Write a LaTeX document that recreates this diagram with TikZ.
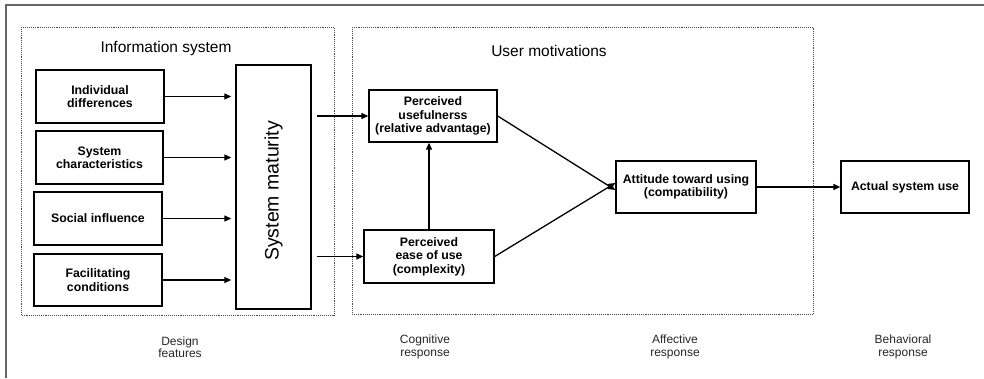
\documentclass[tikz,border=0pt]{standalone}
\usepackage{fontspec}
\setmainfont{Liberation Sans}
\usepackage{tikz}
\usetikzlibrary{arrows.meta, positioning}

\begin{document}
\begin{tikzpicture}[x=1pt,y=-1pt,
  box/.style={draw,line width=1.4pt,align=center,inner sep=2pt,
    font=\fontsize{12.3}{13.4}\selectfont\bfseries},
  arr/.style={-{Triangle[length=7pt,width=6pt]},line width=1.3pt},
  group/.style={draw=black!70,densely dotted,line width=0.9pt},
  title/.style={font=\fontsize{15.5}{18}\selectfont},
  stage/.style={align=center,text=black!85,font=\fontsize{12}{12.5}\selectfont}]
\useasboundingbox (0,0) rectangle (984,378);
% frame
\draw[black!60,line width=1.2pt] (6,378) -- (6,5) -- (984,5);
% groups
\draw[group] (21,27) rectangle (334,315);
\draw[group] (352,27) rectangle (813,314);
\node[title] (infosys) at (166,48) {Information system};
\node[title] (usermot) at (549,51) {User motivations};
% design features
\node[box,minimum width=128pt,minimum height=53pt] (indiv) at (100,96.5) {Individual\\differences};
\node[box,minimum width=127pt,minimum height=53pt] (syschar) at (99.5,157.5) {System\\characteristics};
\node[box,minimum width=128pt,minimum height=53pt] (social) at (98,218.5) {Social influence};
\node[box,minimum width=128pt,minimum height=52pt] (facil) at (98,280) {Facilitating\\conditions};
\node[box,minimum width=75pt,minimum height=244pt] (maturity) at (273.5,187) {};
\node[rotate=90,font=\fontsize{19.5}{22}\selectfont] (matlabel) at ([yshift=-4pt]maturity.center) {System maturity};
% user motivations
\node[box,minimum width=128pt,minimum height=52pt] (useful) at (433,116) {Perceived\\usefulnerss\\(relative advantage)};
\node[box,minimum width=130pt,minimum height=53pt] (ease) at (429,256.5) {Perceived\\ease of use\\(complexity)};
\node[box,minimum width=140pt,minimum height=52pt] (attitude) at (686,187) {Attitude toward using\\(compatibility)};
\node[box,minimum width=128pt,minimum height=52pt] (actual) at (905,187) {Actual system use};
% stages
\node[stage] (design) at (180,347) {Design\\features};
\node[stage] (cognitive) at (425,347) {Cognitive\\response};
\node[stage] (affective) at (675,347) {Affective\\response};
\node[stage] (behavioral) at (903,347) {Behavioral\\response};
% arrows
\foreach \src in {indiv,syschar,social,facil}
  \draw[arr,shorten >=4pt] (\src.east) -- (\src.east -| maturity.west);
\draw[arr,shorten <=5pt] (maturity.east |- useful.west) -- (useful.west);
\draw[arr,shorten <=5pt] (maturity.east |- ease.west) -- (ease.west);
\draw[arr] (ease.north) -- (ease.north |- useful.south);
\draw[arr] (useful.east) -- ([yshift=-3pt]attitude.west);
\draw[arr] (ease.east) -- ([yshift=4pt]attitude.west);
\draw[arr] (attitude.east) -- (actual.west);
\end{tikzpicture}
\end{document}
